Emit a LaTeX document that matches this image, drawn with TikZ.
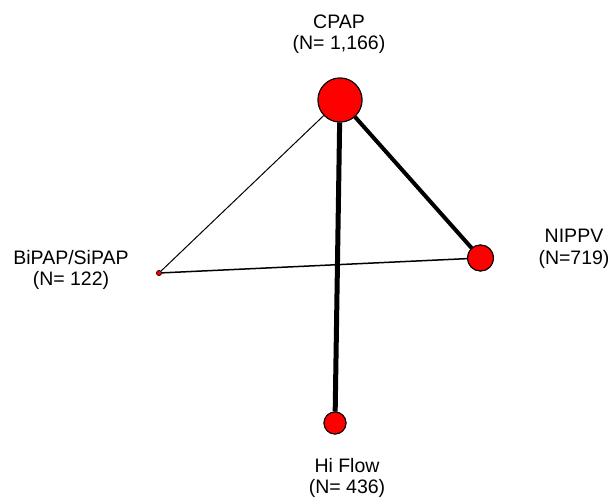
\documentclass[tikz,border=0pt]{standalone}
\usepackage{fontspec}
\setmainfont{Liberation Sans}
\begin{document}
\begin{tikzpicture}[x=1pt,y=-1pt,
  trt/.style={circle,draw=black,fill=red,line width=1pt,inner sep=0pt},
  lab/.style={align=center,font=\fontsize{19.5}{21.5}\selectfont,inner sep=0pt},
  edge/.style={draw=black}]
\useasboundingbox (0,0) rectangle (611,501);
\node[trt,minimum size=44pt] (cpap) at (340,100) {};
\node[trt,minimum size=5pt,line width=0.5pt] (bipap) at (159,273) {};
\node[trt,minimum size=26pt] (nippv) at (480.5,258) {};
\node[trt,minimum size=22pt] (hiflow) at (335,423) {};
\draw[edge,line width=5pt] (cpap) -- (hiflow);
\draw[edge,line width=4pt] (cpap) -- (nippv);
\draw[edge,line width=1pt] (cpap) -- (bipap);
\draw[edge,line width=1.5pt] (bipap) -- (nippv);
\node[trt,minimum size=44pt] at (cpap) {};
\node[trt,minimum size=26pt] at (nippv) {};
\node[trt,minimum size=22pt] at (hiflow) {};
\node[trt,minimum size=5pt,line width=0.5pt] at (bipap) {};
\node[lab] (lcpap) at (339,34) {CPAP\\(N= 1,166)};
\node[lab] (lbipap) at (71,270) {BiPAP/SiPAP\\(N= 122)};
\node[lab] (lnippv) at (574,249) {NIPPV\\(N=719)};
\node[lab] (lhiflow) at (347,478) {Hi Flow\\(N= 436)};
\end{tikzpicture}
\end{document}
